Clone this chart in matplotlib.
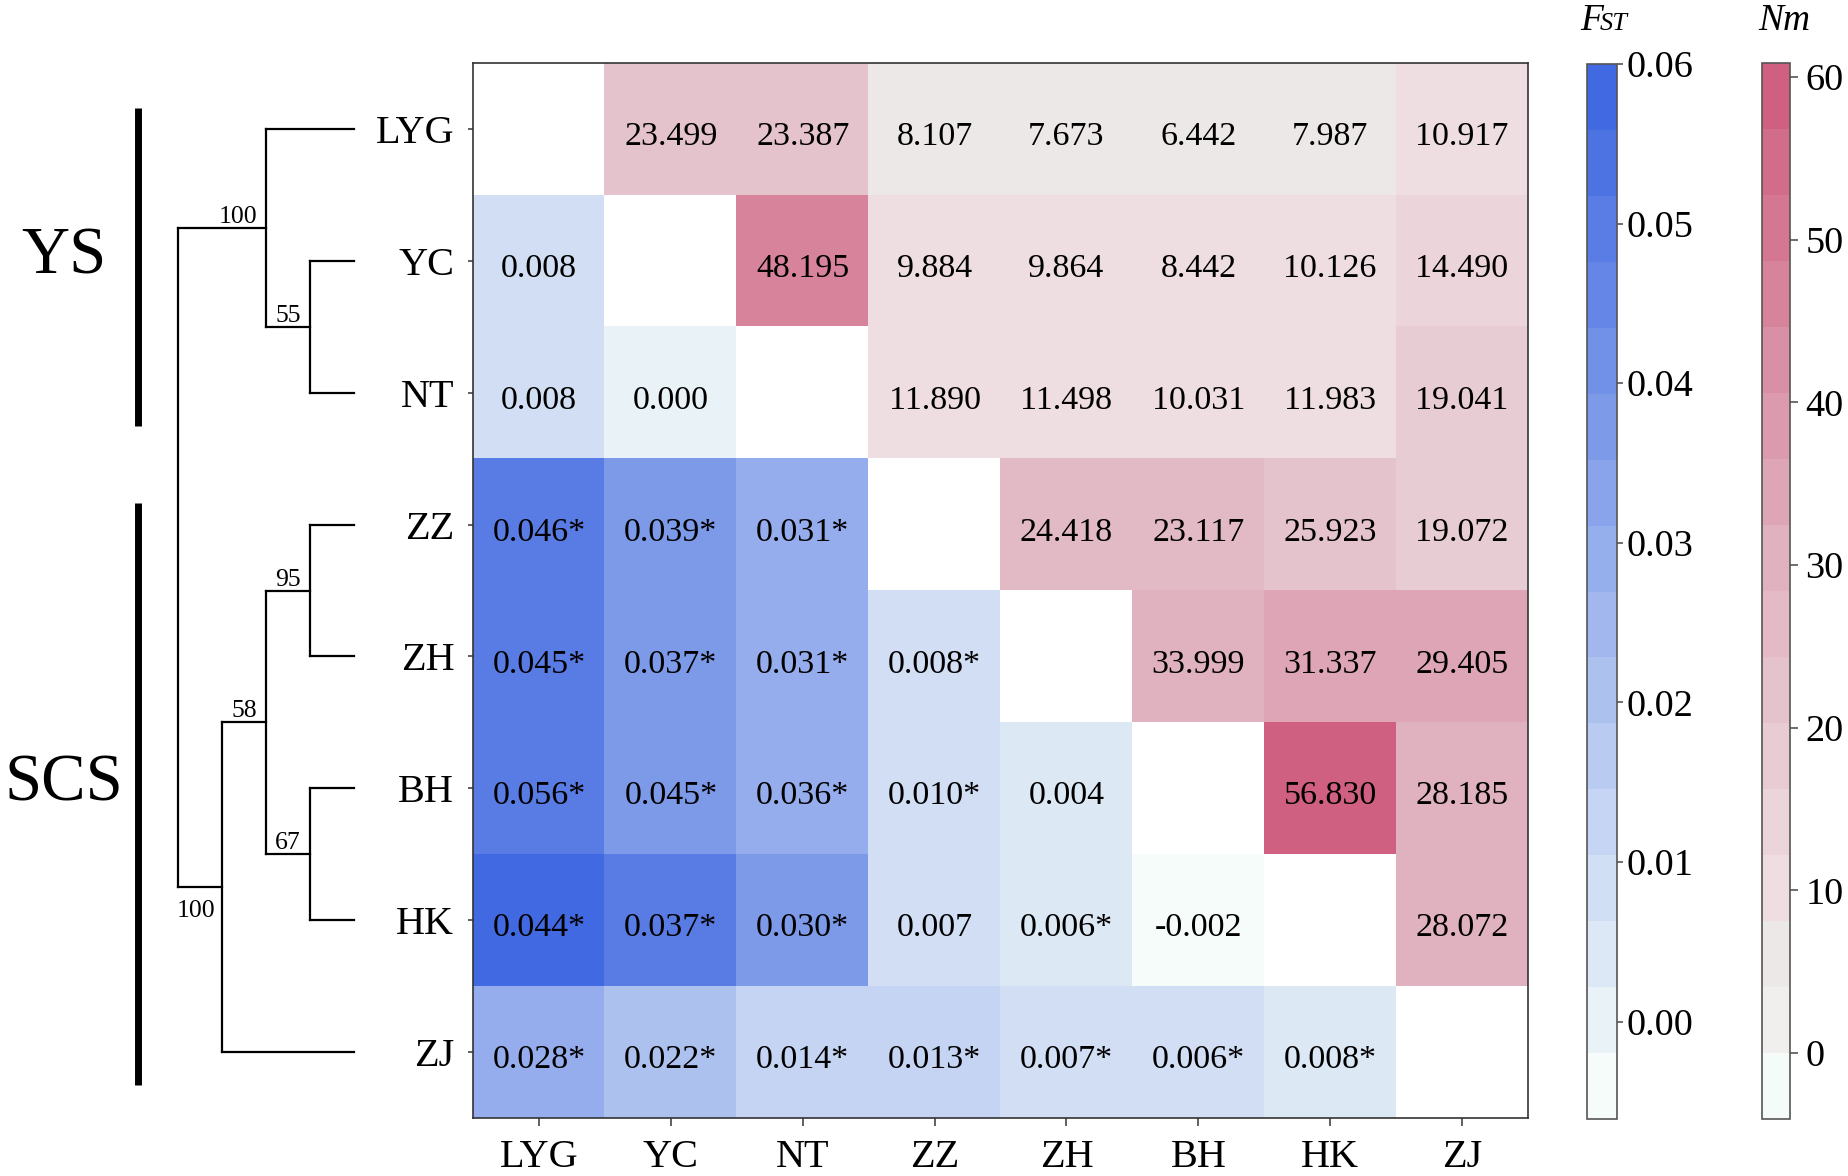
import numpy as np
import matplotlib
matplotlib.use("Agg")
import matplotlib.pyplot as plt
from matplotlib.colors import ListedColormap, BoundaryNorm
from matplotlib.cm import ScalarMappable

plt.rcParams['font.family'] = ['Liberation Serif', 'DejaVu Serif']

# populations, top to bottom / left to right
pops = ['LYG', 'YC', 'NT', 'ZZ', 'ZH', 'BH', 'HK', 'ZJ']

# pairwise FST, lower triangle (rows YC..ZJ, columns LYG..)
fst_vals = [
    [0.008],
    [0.008, 0.000],
    [0.046, 0.039, 0.031],
    [0.045, 0.037, 0.031, 0.008],
    [0.056, 0.045, 0.036, 0.010, 0.004],
    [0.044, 0.037, 0.030, 0.007, 0.006, -0.002],
    [0.028, 0.022, 0.014, 0.013, 0.007, 0.006, 0.008],
]
fst_sig = [
    [0],
    [0, 0],
    [1, 1, 1],
    [1, 1, 1, 1],
    [1, 1, 1, 1, 0],
    [1, 1, 1, 0, 1, 0],
    [1, 1, 1, 1, 1, 1, 1],
]
# colour of each FST cell as read on the FST colour bar
fst_shade = [
    [0.008],
    [0.008, 0.000],
    [0.050, 0.037, 0.029],
    [0.050, 0.037, 0.029, 0.008],
    [0.050, 0.037, 0.029, 0.008, 0.004],
    [0.058, 0.050, 0.037, 0.008, 0.004, -0.004],
    [0.029, 0.021, 0.0125, 0.0125, 0.008, 0.008, 0.004],
]

# Nm, upper triangle (rows LYG..HK, columns to the right of the diagonal)
nm_vals = [
    [23.499, 23.387, 8.107, 7.673, 6.442, 7.987, 10.917],
    [48.195, 9.884, 9.864, 8.442, 10.126, 14.490],
    [11.890, 11.498, 10.031, 11.983, 19.041],
    [24.418, 23.117, 25.923, 19.072],
    [33.999, 31.337, 29.405],
    [56.830, 28.185],
    [28.072],
]
# colour of each Nm cell as read on the Nm colour bar
nm_shade = [
    [22.3, 22.3, 6.1, 6.1, 6.1, 6.1, 10.1],
    [46.7, 10.1, 10.1, 10.1, 10.1, 14.2],
    [10.1, 10.1, 10.1, 10.1, 18.3],
    [26.4, 26.4, 22.3, 18.3],
    [30.4, 34.5, 34.5],
    [58.8, 30.4],
    [30.4],
]

fst_ticks = [0.00, 0.01, 0.02, 0.03, 0.04, 0.05, 0.06]
nm_ticks = [0, 10, 20, 30, 40, 50, 60]
fst_range = (-0.0061, 0.0600)
nm_range = (-4.06, 60.86)
n_bands = 16

# cladogram: (bootstrap, depth, children), leaves are population names
tree = (None, 0, [
    ('100', 2, ['LYG', ('55', 3, ['YC', 'NT'])]),
    ('100', 1, [('58', 2, [('95', 3, ['ZZ', 'ZH']), ('67', 3, ['BH', 'HK'])]), 'ZJ']),
])
groups = [('YS', 0, 2), ('SCS', 3, 7)]

# colour maps (16 discrete bands)
t = np.linspace(0, 1, n_bands)[:, None]
c0 = np.array([245, 252, 249]) / 255
c1 = np.array([65, 105, 225]) / 255
fst_cmap = ListedColormap(c0 + t * (c1 - c0))

nm_idx = [0, 1, 2, 3, 5, 8, 12, 15]
nm_rgb = np.array([[245, 251, 248], [240, 239, 237], [237, 232, 232], [238, 222, 226],
                   [232, 204, 212], [224, 177, 191], [215, 131, 156], [208, 96, 130]]) / 255
nm_cols = np.column_stack([np.interp(np.arange(n_bands), nm_idx, nm_rgb[:, k]) for k in range(3)])
nm_cmap = ListedColormap(nm_cols)

fst_norm = BoundaryNorm(np.linspace(*fst_range, n_bands + 1), n_bands)
nm_norm = BoundaryNorm(np.linspace(*nm_range, n_bands + 1), n_bands)

n = len(pops)
F = np.full((n, n), np.nan)
N = np.full((n, n), np.nan)
for i in range(1, n):
    for j in range(i):
        F[i, j] = fst_shade[i - 1][j]
for i in range(n - 1):
    for k, j in enumerate(range(i + 1, n)):
        N[i, j] = nm_shade[i][k]

W, H = 1849, 1176


def box(x0, y0, x1, y1):
    return [x0 / W, 1 - y1 / H, (x1 - x0) / W, (y1 - y0) / H]


fig = plt.figure(figsize=(W / 100, H / 100), dpi=100)

# heat map
ax = fig.add_axes(box(473, 63, 1528, 1118))
ax.imshow(np.ma.masked_invalid(F), cmap=fst_cmap, norm=fst_norm, aspect='auto', interpolation='nearest')
ax.imshow(np.ma.masked_invalid(N), cmap=nm_cmap, norm=nm_norm, aspect='auto', interpolation='nearest')
ax.set_xlim(-0.5, n - 0.5)
ax.set_ylim(n - 0.5, -0.5)

dy = 0.06
for i in range(1, n):
    for j in range(i):
        s = f'{fst_vals[i - 1][j]:.3f}' + ('*' if fst_sig[i - 1][j] else '')
        ax.text(j, i + dy, s, ha='center', va='center', fontsize=24.5)
for i in range(n - 1):
    for k, j in enumerate(range(i + 1, n)):
        ax.text(j, i + dy, f'{nm_vals[i][k]:.3f}', ha='center', va='center', fontsize=24.5)

ax.set_xticks(range(n))
ax.set_xticklabels(pops, fontsize=29)
ax.set_yticks(range(n))
ax.set_yticklabels(pops, fontsize=29)
ax.tick_params(axis='x', length=6, width=1.2, color='#444444', pad=9)
ax.tick_params(axis='y', length=3.5, width=1.2, color='#444444', pad=10)
for sp in ax.spines.values():
    sp.set_color('#333333')
    sp.set_linewidth(1.2)

# tree
tax = fig.add_axes(box(0, 63, 473, 1118))
tax.set_xlim(0, 473)
tax.set_ylim(n - 0.5, -0.5)
tax.axis('off')
x0, dx, leaf_depth = 178, 44, 4
px = 1 / 131.9  # one pixel in row units


def draw(node, is_root=False):
    if isinstance(node, str):
        return pops.index(node), leaf_depth
    support, depth, kids = node
    pts = [draw(k) for k in kids]
    x = x0 + depth * dx
    ys = [p[0] for p in pts]
    tax.plot([x, x], [min(ys), max(ys)], color='black', lw=1.6, solid_capstyle='projecting')
    for idx, ((yc, dc), kid) in enumerate(zip(pts, kids)):
        xc = x0 + dc * dx
        tax.plot([x, xc], [yc, yc], color='black', lw=1.6, solid_capstyle='projecting')
        if not isinstance(kid, str) and kid[0] is not None:
            if is_root and idx == len(kids) - 1:
                tax.text(xc - 7, yc + 13 * px, kid[0], ha='right', va='top', fontsize=18.5)
            else:
                tax.text(xc - 9, yc - 5 * px, kid[0], ha='right', va='baseline', fontsize=18.5)
    return float(np.mean(ys)), depth


draw(tree, is_root=True)

for name, r0, r1 in groups:
    tax.plot([138, 138], [r0 - 0.16, r1 + 0.25], color='black', lw=5, solid_capstyle='butt')
    tax.text(64, (r0 + r1) / 2 - 0.03, name, ha='center', va='center', fontsize=48)

# colour bars
cax1 = fig.add_axes(box(1587, 64, 1617, 1119))
cb1 = fig.colorbar(ScalarMappable(norm=fst_norm, cmap=fst_cmap), cax=cax1, ticks=fst_ticks)
cb1.ax.set_yticklabels([f'{v:.2f}' for v in fst_ticks])
cax2 = fig.add_axes(box(1762, 63, 1790, 1119))
cb2 = fig.colorbar(ScalarMappable(norm=nm_norm, cmap=nm_cmap), cax=cax2, ticks=nm_ticks)
cb2.ax.set_yticklabels([str(v) for v in nm_ticks])
for cb, tl, pd in [(cb1, 4, 3), (cb2, 6, 5)]:
    cb.outline.set_edgecolor('#555555')
    cb.outline.set_linewidth(1.2)
    cb.ax.minorticks_off()
    cb.ax.tick_params(length=tl, width=1.2, color='#555555', labelsize=27.5, pad=pd)

fig.text(1580 / W, 1 - 30 / H, 'F', style='italic', fontsize=27, va='baseline')
fig.text(1600 / W, 1 - 30 / H, 'ST', style='italic', fontsize=19, va='baseline')
fig.text(1758 / W, 1 - 30 / H, 'Nm', style='italic', fontsize=27, va='baseline')

fig.savefig('out.png', dpi=100)
